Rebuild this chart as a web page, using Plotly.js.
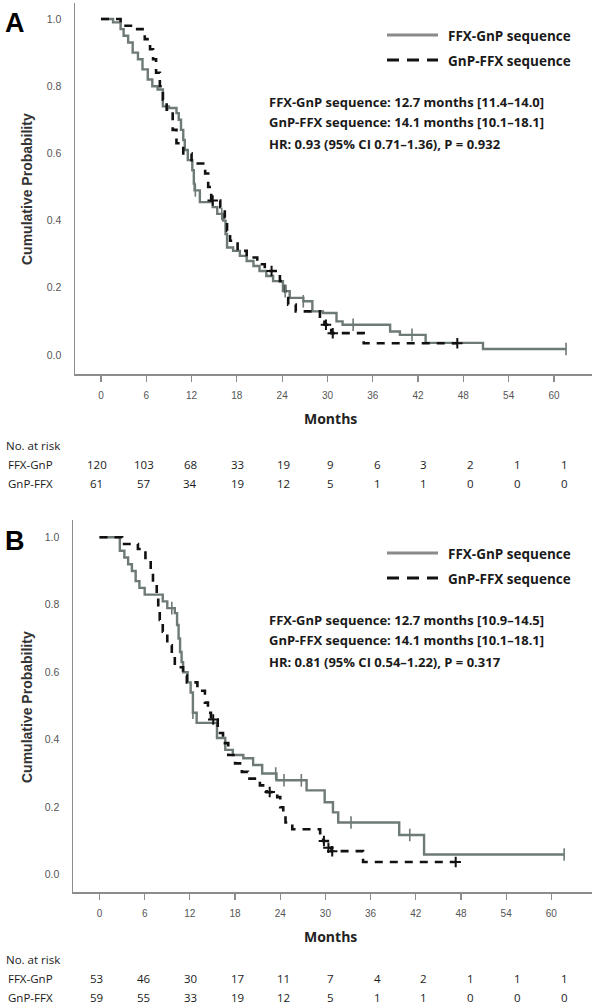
<!DOCTYPE html>
<html><head><meta charset="utf-8">
<script src="https://cdn.plot.ly/plotly-3.0.1.min.js"></script>
<style>html,body{margin:0;padding:0;background:#fff}#chart{width:596px;height:1007px}</style>
</head><body><div id="chart"></div>
<script>
// ---------- DATA ----------
var monthTicks = [0, 6, 12, 18, 24, 30, 36, 42, 48, 54, 60];
var probTicks = [0, 0.2, 0.4, 0.6, 0.8, 1.0];
var probTickText = ['0.0', '0.2', '0.4', '0.6', '0.8', '1.0'];
var seriesNames = ['FFX-GnP sequence', 'GnP-FFX sequence'];
var rowLabels = ['FFX-GnP', 'GnP-FFX'];

// Panel A
var A_ffx_t = [0, 1.6, 2.6, 3.0, 3.6, 4.2, 4.9, 5.5, 6.2, 6.8, 7.5, 8.2, 9.0, 10.0, 10.3, 10.6, 10.9, 11.1, 11.5, 12.1, 12.3, 12.4, 13.1, 14.8, 15.4, 16.2, 16.5, 16.7, 17.5, 18.4, 19.3, 20.2, 21.0, 21.9, 22.8, 24.1, 25.0, 26.8, 28.0, 29.4, 31.2, 32.0, 38.3, 39.6, 43.0, 50.6, 61.6];
var A_ffx_s = [1.0, 0.99, 0.97, 0.95, 0.93, 0.90, 0.88, 0.85, 0.82, 0.80, 0.79, 0.74, 0.735, 0.72, 0.70, 0.67, 0.64, 0.61, 0.58, 0.55, 0.51, 0.49, 0.455, 0.44, 0.42, 0.40, 0.36, 0.32, 0.31, 0.295, 0.28, 0.265, 0.25, 0.235, 0.22, 0.19, 0.17, 0.16, 0.13, 0.125, 0.10, 0.09, 0.07, 0.06, 0.036, 0.018, 0.018];
var A_ffx_cens = [12.5, 16.0, 24.4, 26.8, 33.4, 41.2, 61.6];
var A_gnp_t = [0, 2.6, 4.8, 5.8, 6.5, 6.9, 7.3, 7.8, 8.2, 8.7, 9.5, 10.0, 10.9, 12.0, 13.8, 14.2, 14.6, 15.8, 16.4, 16.7, 17.1, 18.1, 19.3, 20.7, 21.7, 23.7, 24.4, 24.8, 25.8, 29.0, 29.6, 30.5, 34.8, 47.2];
var A_gnp_s = [1.0, 0.98, 0.97, 0.94, 0.91, 0.88, 0.84, 0.80, 0.76, 0.73, 0.67, 0.63, 0.60, 0.57, 0.54, 0.50, 0.46, 0.44, 0.41, 0.37, 0.34, 0.31, 0.29, 0.27, 0.25, 0.22, 0.185, 0.15, 0.13, 0.105, 0.09, 0.065, 0.035, 0.035];
var A_gnp_cens = [14.8, 22.6, 29.8, 30.7, 47.2];
var A_stats = ['FFX-GnP sequence: 12.7 months [11.4–14.0]', 'GnP-FFX sequence: 14.1 months [10.1–18.1]', 'HR: 0.93 (95% CI 0.71–1.36), P = 0.932'];
var A_risk_ffx = [120, 103, 68, 33, 19, 9, 6, 3, 2, 1, 1];
var A_risk_gnp = [61, 57, 34, 19, 12, 5, 1, 1, 0, 0, 0];

// Panel B
var B_ffx_t = [0, 2.7, 3.3, 3.8, 4.3, 4.8, 5.3, 6.0, 8.4, 9.0, 10.0, 10.3, 10.5, 10.7, 10.9, 11.1, 11.7, 12.1, 12.4, 12.9, 15.6, 16.7, 17.7, 19.1, 20.4, 21.6, 23.5, 27.5, 29.9, 31.0, 31.7, 39.8, 43.1, 61.7];
var B_ffx_s = [1.0, 0.96, 0.94, 0.92, 0.90, 0.87, 0.85, 0.83, 0.81, 0.79, 0.775, 0.74, 0.70, 0.66, 0.63, 0.60, 0.57, 0.54, 0.48, 0.45, 0.405, 0.37, 0.355, 0.345, 0.325, 0.30, 0.28, 0.25, 0.215, 0.185, 0.155, 0.118, 0.06, 0.06];
var B_ffx_cens = [9.6, 12.4, 23.4, 24.5, 26.8, 33.4, 41.2, 61.7];
var B_gnp_t = [0, 3.0, 5.1, 6.1, 6.8, 7.1, 7.6, 7.8, 8.0, 8.4, 9.0, 9.6, 10.0, 11.1, 11.6, 13.0, 14.0, 14.4, 14.8, 15.7, 16.4, 17.1, 18.0, 18.9, 19.7, 21.3, 22.2, 23.6, 24.0, 24.4, 24.7, 25.6, 29.3, 29.7, 30.3, 30.8, 35.0, 47.3];
var B_gnp_s = [1.0, 0.98, 0.965, 0.93, 0.90, 0.86, 0.83, 0.78, 0.755, 0.72, 0.68, 0.65, 0.615, 0.59, 0.57, 0.545, 0.51, 0.48, 0.46, 0.42, 0.39, 0.355, 0.33, 0.305, 0.285, 0.265, 0.245, 0.23, 0.20, 0.175, 0.155, 0.135, 0.11, 0.10, 0.08, 0.07, 0.038, 0.038];
var B_gnp_cens = [15.1, 22.6, 29.8, 30.4, 30.9, 47.3];
var B_stats = ['FFX-GnP sequence: 12.7 months [10.9–14.5]', 'GnP-FFX sequence: 14.1 months [10.1–18.1]', 'HR: 0.81 (95% CI 0.54–1.22), P = 0.317'];
var B_risk_ffx = [53, 46, 30, 17, 11, 7, 4, 2, 1, 1, 1];
var B_risk_gnp = [59, 55, 33, 19, 12, 5, 1, 1, 0, 0, 0];

// ---------- STYLE / LAYOUT ----------
var W = 596, H = 1007;
var GRAY = '#6e7a74', BLACK = '#111111';
var AXC = '#8c8c8c';
var SANS = '"Open Sans", "Noto Sans", sans-serif';
var ARIAL = 'Arial, "Liberation Sans", sans-serif';

function stepAt(ts, ss, t) { var v = ss[0]; for (var i = 0; i < ts.length; i++) { if (ts[i] <= t) v = ss[i]; } return v; }
function px(x) { return x / W; }
function py(y) { return 1 - y / H; }
function ann(text, x, y, o) {
  o = o || {};
  return {text: text, x: px(x), y: py(y), xref: 'paper', yref: 'paper', showarrow: false,
    xanchor: o.xa || 'left', yanchor: 'middle', textangle: o.angle || 0,
    font: {family: o.family || SANS, size: o.size || 12, color: o.color || '#1a1a1a'}};
}

var traces = [];
function addPanel(xa, ya, ft, fs, fc, gt, gs, gc) {
  traces.push({x: ft, y: fs, xaxis: xa, yaxis: ya, mode: 'lines', line: {shape: 'hv', color: GRAY, width: 2.4}, showlegend: false, hoverinfo: 'skip'});
  traces.push({x: gt, y: gs, xaxis: xa, yaxis: ya, mode: 'lines', line: {shape: 'hv', color: BLACK, width: 2.6, dash: '8px,7px'}, showlegend: false, hoverinfo: 'skip'});
  traces.push({x: fc, y: fc.map(function (t) { return stepAt(ft, fs, t); }), xaxis: xa, yaxis: ya, mode: 'markers',
    marker: {symbol: 'line-ns-open', size: 9, color: GRAY, line: {color: GRAY, width: 1.6}}, showlegend: false, hoverinfo: 'skip'});
  traces.push({x: gc, y: gc.map(function (t) { return stepAt(gt, gs, t); }), xaxis: xa, yaxis: ya, mode: 'markers',
    marker: {symbol: 'cross-thin-open', size: 7.5, color: BLACK, line: {color: BLACK, width: 2}}, showlegend: false, hoverinfo: 'skip'});
}
addPanel('x', 'y', A_ffx_t, A_ffx_s, A_ffx_cens, A_gnp_t, A_gnp_s, A_gnp_cens);
addPanel('x2', 'y2', B_ffx_t, B_ffx_s, B_ffx_cens, B_gnp_t, B_gnp_s, B_gnp_cens);

function xax(domL, domR, r) {
  return {domain: [px(domL), px(domR)], range: r, tickvals: monthTicks, ticks: 'outside', ticklen: 6, tickwidth: 1.2, tickcolor: AXC,
    showline: true, linecolor: AXC, linewidth: 1.5, showgrid: false, zeroline: false, fixedrange: true,
    tickfont: {family: ARIAL, size: 10, color: '#555'}, ticklabelstandoff: 5};
}
function yax(top, bot, r) {
  return {domain: [py(bot), py(top)], range: r, tickvals: probTicks, ticktext: probTickText, ticks: '',
    showline: true, linecolor: AXC, linewidth: 1.5, showgrid: false, zeroline: false, fixedrange: true,
    tickfont: {family: ARIAL, size: 10.5, color: '#555'}, ticklabelstandoff: 10};
}

var annotations = [], shapes = [];
function panelText(off, tOff, label, stats, riskF, riskG) {
  annotations.push(ann('<b>' + label + '</b>', 3, 23 + off, {family: ARIAL, size: 27, color: '#000'}));
  annotations.push(ann('<b>Cumulative Probability</b>', 27, 189 + off, {family: ARIAL, size: 14, color: '#333', xa: 'center', angle: -90}));
  annotations.push(ann('<b>Months</b>', 330, 418 + off, {size: 14, xa: 'center', color: '#222'}));
  // legend
  shapes.push({type: 'line', xref: 'paper', yref: 'paper', x0: px(387), x1: px(438), y0: py(35 + off), y1: py(35 + off), line: {color: '#8a8a8a', width: 3}});
  shapes.push({type: 'line', xref: 'paper', yref: 'paper', x0: px(387), x1: px(438), y0: py(60 + off), y1: py(60 + off), line: {color: '#111', width: 3, dash: '12px,8px'}});
  annotations.push(ann('<b>' + seriesNames[0] + '</b>', 446, 36 + off, {size: 13.5}));
  annotations.push(ann('<b>' + seriesNames[1] + '</b>', 446, 61 + off, {size: 13.5}));
  for (var i = 0; i < stats.length; i++) annotations.push(ann('<b>' + stats[i] + '</b>', 267, [102, 122, 144][i] + off, {size: 13}));
  // risk table
  var o2 = off + tOff;
  annotations.push(ann('No. at risk', 4, 445 + o2, {size: 11.5}));
  annotations.push(ann(rowLabels[0], 6, 464 + o2, {size: 11.5}));
  annotations.push(ann(rowLabels[1], 6, 483 + o2, {size: 11.5}));
  for (var j = 0; j < riskF.length; j++) {
    annotations.push(ann(String(riskF[j]), 97 + 46.7 * j, 464 + o2, {size: 11.5, xa: 'center'}));
    annotations.push(ann(String(riskG[j]), 97 + 46.7 * j, 483 + o2, {size: 11.5, xa: 'center'}));
  }
}
panelText(0, 0, 'A', A_stats, A_risk_ffx, A_risk_gnp);
panelText(518, -4, 'B', B_stats, B_risk_ffx, B_risk_gnp);

var layout = {
  width: W, height: H, margin: {l: 0, r: 0, t: 0, b: 0}, paper_bgcolor: '#fff', plot_bgcolor: '#fff', showlegend: false,
  xaxis: Object.assign(xax(75, 592, [-3.44, 65.04]), {anchor: 'y'}),
  yaxis: Object.assign(yax(3, 374, [-0.0565, 1.0476]), {anchor: 'x'}),
  xaxis2: Object.assign(xax(73, 592, [-3.52, 65.4]), {anchor: 'y2'}),
  yaxis2: Object.assign(yax(520, 892, [-0.051, 1.051]), {anchor: 'x2'}),
  annotations: annotations, shapes: shapes
};
Plotly.newPlot('chart', traces, layout, {staticPlot: true, displayModeBar: false});
</script></body></html>
